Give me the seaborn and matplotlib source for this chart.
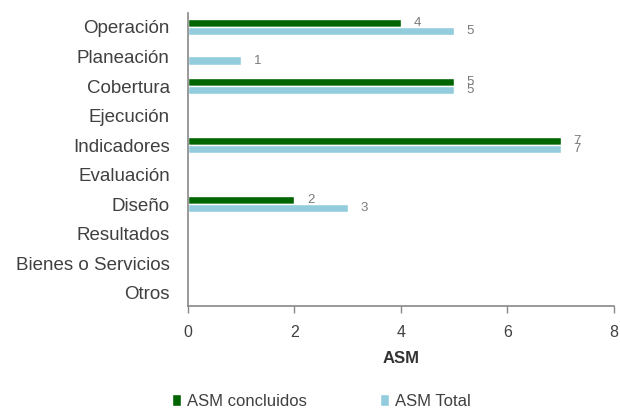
import matplotlib
matplotlib.use("Agg")
import matplotlib.pyplot as plt
import seaborn as sns
import pandas as pd

categories = ["Operación", "Planeación", "Cobertura", "Ejecución", "Indicadores",
              "Evaluación", "Diseño", "Resultados", "Bienes o Servicios", "Otros"]
concluidos = [4, 0, 5, 0, 7, 0, 2, 0, 0, 0]
total = [5, 1, 5, 0, 7, 0, 3, 0, 0, 0]
series_names = ["ASM concluidos", "ASM Total"]
colors = ["#006400", "#93CDDD"]

df = pd.DataFrame({
    "Categoria": categories * 2,
    "Valor": concluidos + total,
    "Serie": [series_names[0]] * len(categories) + [series_names[1]] * len(categories),
})

sns.set_style("white")
plt.rcParams["font.family"] = ["Liberation Sans", "DejaVu Sans"]

fig = plt.figure(figsize=(6.2, 4.09), dpi=100)
ax = fig.add_axes([0.303, 0.252, 0.687, 0.716])

sns.barplot(data=df, y="Categoria", x="Valor", hue="Serie", order=categories,
            hue_order=series_names, palette=colors, orient="h", width=0.56,
            saturation=1, ax=ax, legend=True)

# value labels only for non-zero bars
for cont in ax.containers:
    labels = [f"{v:g}" if v > 0 else "" for v in cont.datavalues]
    ax.bar_label(cont, labels=labels, padding=9, fontsize=9.5, color="#7a7a7a")

ax.set_xlim(0, 8)
ax.set_ylim(9.45, -0.47)
ax.set_xticks([0, 2, 4, 6, 8])
ax.set_ylabel("")
ax.set_xlabel("ASM", fontsize=12, fontweight="bold", color="#333333", labelpad=8)
ax.tick_params(axis="y", length=0, labelsize=13.5, colors="#404040", pad=13)
ax.tick_params(axis="x", length=5, width=1, colors="#888888", labelsize=11.5,
               labelcolor="#404040", direction="out", bottom=True, pad=9)
for side in ["top", "right"]:
    ax.spines[side].set_visible(False)
for side in ["left", "bottom"]:
    ax.spines[side].set_color("#888888")
    ax.spines[side].set_linewidth(1.2)

ax.legend(loc="center left", bbox_to_anchor=(-0.038, -0.325), ncol=2, frameon=False,
          fontsize=12, handlelength=0.55, handleheight=0.75, handletextpad=0.35,
          columnspacing=4.4, borderaxespad=0, borderpad=0, labelcolor="#404040")

fig.savefig("out.png", dpi=100)
